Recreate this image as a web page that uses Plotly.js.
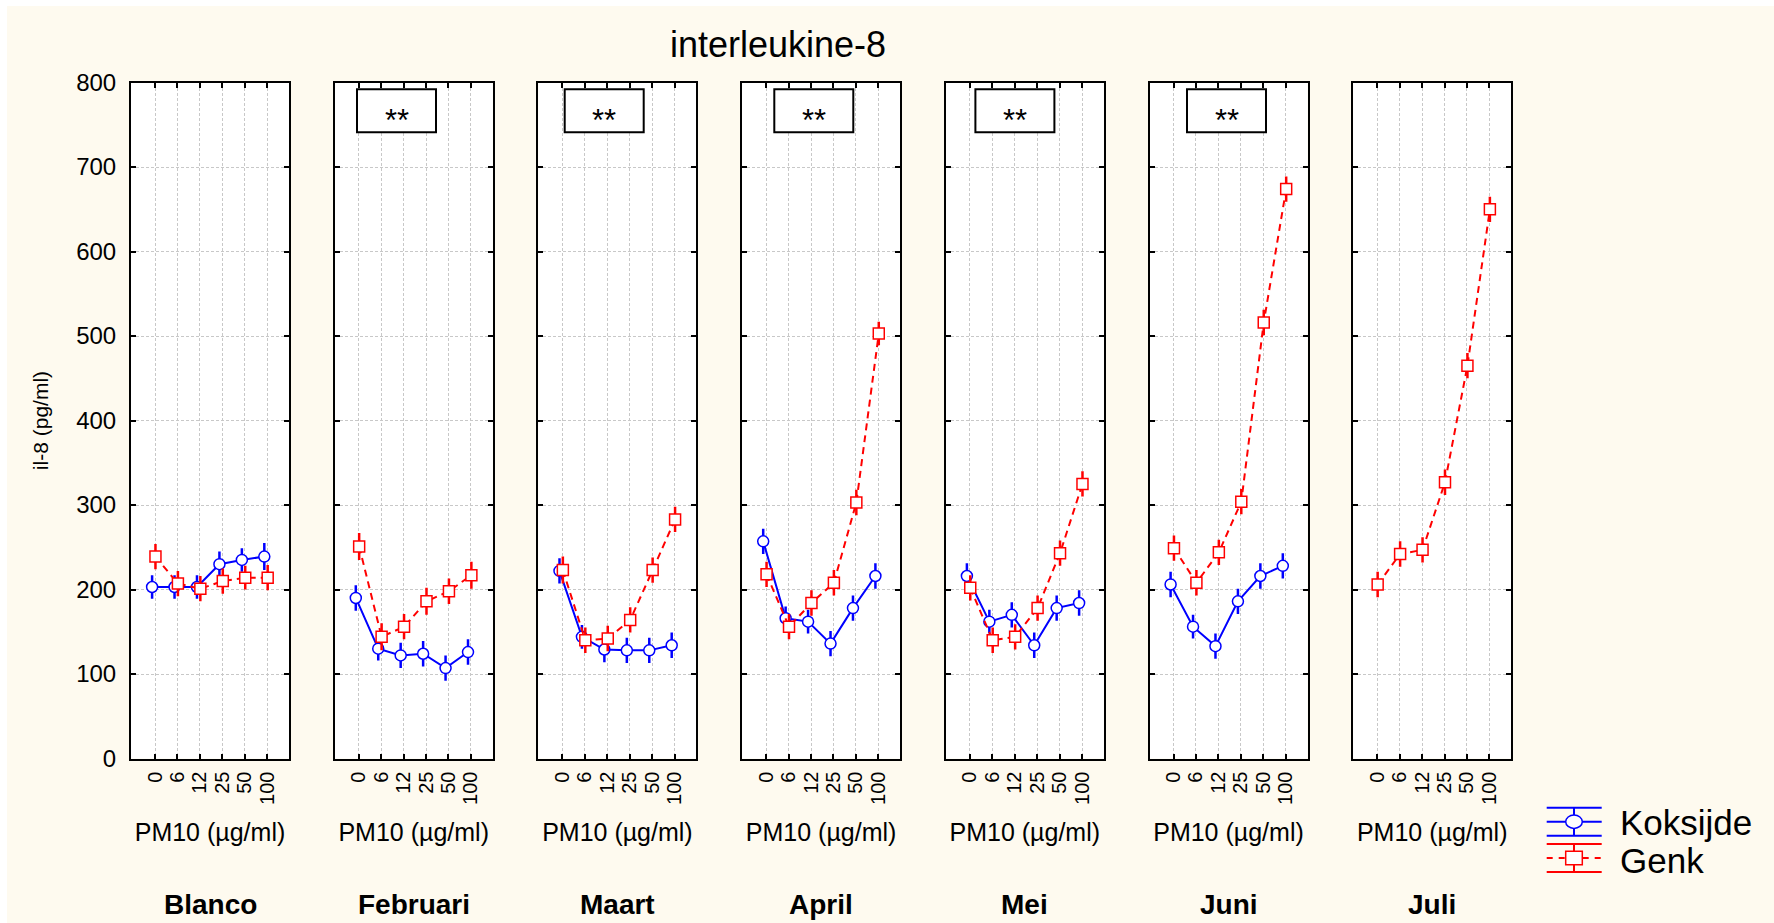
<!DOCTYPE html>
<html><head><meta charset="utf-8">
<script src="https://cdn.plot.ly/plotly-3.0.1.min.js"></script>
<style>html,body{margin:0;padding:0;background:#fff;}#chart{width:1774px;height:923px;}</style>
</head><body><div id="chart"></div>
<script>
// ---------------- data ----------------
const doses = ['0', '6', '12', '25', '50', '100'];
const months = ['Blanco', 'Februari', 'Maart', 'April', 'Mei', 'Juni', 'Juli'];
const significance = ['', '**', '**', '**', '**', '**', ''];

const koksijdeBlanco   = [203, 203, 203, 230, 235, 239];
const koksijdeFebruari = [190, 130, 122, 124, 107, 126];
const koksijdeMaart    = [222, 144, 129, 128, 128, 134];
const koksijdeApril    = [257, 166, 162, 136, 178, 216];
const koksijdeMei      = [216, 162, 170, 134, 178, 184];
const koksijdeJuni     = [206, 156, 133, 186, 216, 228];

const genkBlanco   = [239, 207, 201, 210, 214, 214];
const genkFebruari = [251, 144, 156, 186, 198, 217];
const genkMaart    = [223, 140, 142, 164, 223, 283];
const genkApril    = [218, 156, 184, 208, 303, 503];
const genkMei      = [202, 140, 144, 178, 243, 325];
const genkJuni     = [249, 208, 244, 304, 516, 674];
const genkJuli     = [206, 242, 247, 327, 465, 650];

const koksijdeBlancoErr   = [14, 14, 14, 15, 14, 16];
const koksijdeFebruariErr = [15, 14, 15, 15, 15, 15];
const koksijdeMaartErr    = [15, 14, 15, 15, 15, 15];
const koksijdeAprilErr    = [15, 14, 14, 15, 15, 15];
const koksijdeMeiErr      = [15, 14, 15, 15, 15, 15];
const koksijdeJuniErr     = [15, 14, 15, 15, 15, 15];

const genkBlancoErr   = [15, 15, 15, 15, 14, 15];
const genkFebruariErr = [16, 16, 15, 16, 15, 16];
const genkMaartErr    = [16, 15, 15, 15, 15, 15];
const genkAprilErr    = [15, 15, 15, 15, 15, 14];
const genkMeiErr      = [15, 15, 15, 15, 15, 15];
const genkJuniErr     = [15, 15, 15, 15, 15, 15];
const genkJuliErr     = [15, 15, 15, 15, 15, 15];

const koksijdeByMonth = [koksijdeBlanco, koksijdeFebruari, koksijdeMaart, koksijdeApril, koksijdeMei, koksijdeJuni, null];
const koksijdeErrByMonth = [koksijdeBlancoErr, koksijdeFebruariErr, koksijdeMaartErr, koksijdeAprilErr, koksijdeMeiErr, koksijdeJuniErr, null];
const genkByMonth = [genkBlanco, genkFebruari, genkMaart, genkApril, genkMei, genkJuni, genkJuli];
const genkErrByMonth = [genkBlancoErr, genkFebruariErr, genkMaartErr, genkAprilErr, genkMeiErr, genkJuniErr, genkJuliErr];

// ---------------- layout constants ----------------
const W = 1774, H = 923;
const FONT = 'Liberation Sans, Arial, Helvetica, sans-serif';
const BLUE = '#0000ff', RED = '#ff0000', CREAM = '#fefaef';
const panelLeft0 = 131, panelStep = 203.7, panelW = 158;
const plotTop = 82.6, plotBottom = 758.5;
const boxCenters = [null, 396.5, 604.2, 813.8, 1014.9, 1226.5, null];
const boxW = 79, boxTop = 89.3, boxBottom = 132.3;
const px = v => v / W;
const py = v => 1 - v / H;

const traces = [];
const annotations = [];
const shapes = [
  {type: 'rect', xref: 'paper', yref: 'paper', x0: 0, x1: px(7), y0: 0, y1: 1, fillcolor: '#ffffff', line: {width: 0}, layer: 'below'},
  {type: 'rect', xref: 'paper', yref: 'paper', x0: 0, x1: 1, y0: py(6), y1: 1, fillcolor: '#ffffff', line: {width: 0}, layer: 'below'}
];

const layout = {
  width: W, height: H, autosize: false,
  margin: {l: 0, r: 0, t: 0, b: 0, pad: 0},
  paper_bgcolor: CREAM, plot_bgcolor: '#ffffff',
  font: {family: FONT, color: '#000000'},
  showlegend: false,
  title: {text: 'interleukine-8', font: {family: FONT, size: 36, color: '#000'},
          x: px(778), y: py(44), xanchor: 'center', yanchor: 'middle', xref: 'paper', yref: 'paper'}
};

months.forEach((m, i) => {
  const n = i === 0 ? '' : String(i + 1);
  const xr = 'x' + n, yr = 'y' + n;
  const left = panelLeft0 + panelStep * i;
  layout['xaxis' + n] = {
    domain: [px(left), px(left + panelW)], anchor: yr,
    range: [-1.07, 5.97], tickmode: 'array', tickvals: doses.map((d, k) => k), ticktext: doses,
    tickangle: -90, tickfont: {family: FONT, size: 20, color: '#000'}, ticklabelstandoff: 3,
    ticks: 'inside', ticklen: 5, tickwidth: 2, tickcolor: '#000',
    showline: true, linecolor: '#000', linewidth: 2, mirror: 'ticks',
    showgrid: true, gridcolor: '#c8c8c8', gridwidth: 1, griddash: '3px,2px', zeroline: false,
    title: {text: 'PM10 (µg/ml)', font: {family: FONT, size: 25, color: '#000'}, standoff: 20},
    fixedrange: true
  };
  layout['yaxis' + n] = {
    domain: [py(plotBottom), py(plotTop)], anchor: xr,
    range: [0, 800], dtick: 100, tick0: 0,
    showticklabels: i === 0, tickfont: {family: FONT, size: 24, color: '#000'}, ticklabelstandoff: 8,
    ticks: 'inside', ticklen: 5, tickwidth: 2, tickcolor: '#000',
    showline: true, linecolor: '#000', linewidth: 2, mirror: 'ticks',
    showgrid: true, gridcolor: '#c8c8c8', gridwidth: 1, griddash: '3px,2px', zeroline: false,
    fixedrange: true
  };
  if (i === 0) {
    layout['yaxis' + n].title = {text: 'il-8 (pg/ml)', font: {family: FONT, size: 21, color: '#000'}, standoff: 22};
  }

  if (koksijdeByMonth[i]) {
    traces.push({
      type: 'scatter', mode: 'lines+markers', name: 'Koksijde', xaxis: xr, yaxis: yr,
      x: doses.map((d, k) => k - 0.13), y: koksijdeByMonth[i],
      line: {color: BLUE, width: 2},
      marker: {symbol: 'circle', size: 11, color: '#ffffff', line: {color: BLUE, width: 1.5}},
      error_y: {type: 'data', array: koksijdeErrByMonth[i], visible: true, color: BLUE, thickness: 2.5, width: 0},
      showlegend: false, hoverinfo: 'y'
    });
  }
  traces.push({
    type: 'scatter', mode: 'lines+markers', name: 'Genk', xaxis: xr, yaxis: yr,
    x: doses.map((d, k) => k + 0.02), y: genkByMonth[i],
    line: {color: RED, width: 2, dash: '7px,5px'},
    marker: {symbol: 'square', size: 11, color: '#ffffff', line: {color: RED, width: 1.5}},
    error_y: {type: 'data', array: genkErrByMonth[i], visible: true, color: RED, thickness: 2.5, width: 0},
    showlegend: false, hoverinfo: 'y'
  });

  // month label
  annotations.push({
    xref: 'paper', yref: 'paper', x: px(left + panelW / 2), y: py(904),
    xanchor: 'center', yanchor: 'middle', showarrow: false,
    text: '<b>' + m + '</b>', font: {family: FONT, size: 28, color: '#000'}
  });
  // significance box
  if (significance[i]) {
    const c = boxCenters[i];
    shapes.push({type: 'rect', xref: 'paper', yref: 'paper', layer: 'above',
                 x0: px(c - boxW / 2), x1: px(c + boxW / 2), y0: py(boxBottom), y1: py(boxTop),
                 fillcolor: '#ffffff', line: {color: '#000', width: 2}});
    annotations.push({
      xref: 'paper', yref: 'paper', x: px(c), y: py(121),
      xanchor: 'center', yanchor: 'middle', showarrow: false,
      text: significance[i], font: {family: FONT, size: 31, color: '#000'}
    });
  }
});

// ---------------- custom legend ----------------
const lgX0 = 1546.7, lgX1 = 1601.7, lgXc = 1574;
function legendSymbol(color, yc, dashMid, sym) {
  const l = (y, dash) => ({type: 'line', xref: 'paper', yref: 'paper', x0: px(lgX0), x1: px(lgX1), y0: py(y), y1: py(y),
                          line: {color: color, width: 2, dash: dash || 'solid'}});
  shapes.push(l(yc - 14));
  shapes.push(l(yc + 14));
  shapes.push(l(yc, dashMid));
  shapes.push({type: 'line', xref: 'paper', yref: 'paper', x0: px(lgXc), x1: px(lgXc), y0: py(yc - 14), y1: py(yc + 14),
               line: {color: color, width: 2}});
  shapes.push({type: sym, xref: 'paper', yref: 'paper', x0: px(lgXc - 8.3), x1: px(lgXc + 8.3), y0: py(yc - 6.7), y1: py(yc + 6.7),
               fillcolor: '#ffffff', line: {color: color, width: 1.5}});
}
legendSymbol(BLUE, 821.7, 'solid', 'circle');
legendSymbol(RED, 858, '6px,6px', 'rect');
annotations.push({xref: 'paper', yref: 'paper', x: px(1618), y: py(822), xanchor: 'left', yanchor: 'middle',
                  showarrow: false, text: 'Koksijde', font: {family: FONT, size: 35, color: '#000'}});
annotations.push({xref: 'paper', yref: 'paper', x: px(1618), y: py(860), xanchor: 'left', yanchor: 'middle',
                  showarrow: false, text: 'Genk', font: {family: FONT, size: 35, color: '#000'}});

layout.annotations = annotations;
layout.shapes = shapes;

Plotly.newPlot('chart', traces, layout, {displayModeBar: false, staticPlot: false, responsive: false});
</script>
</body></html>
